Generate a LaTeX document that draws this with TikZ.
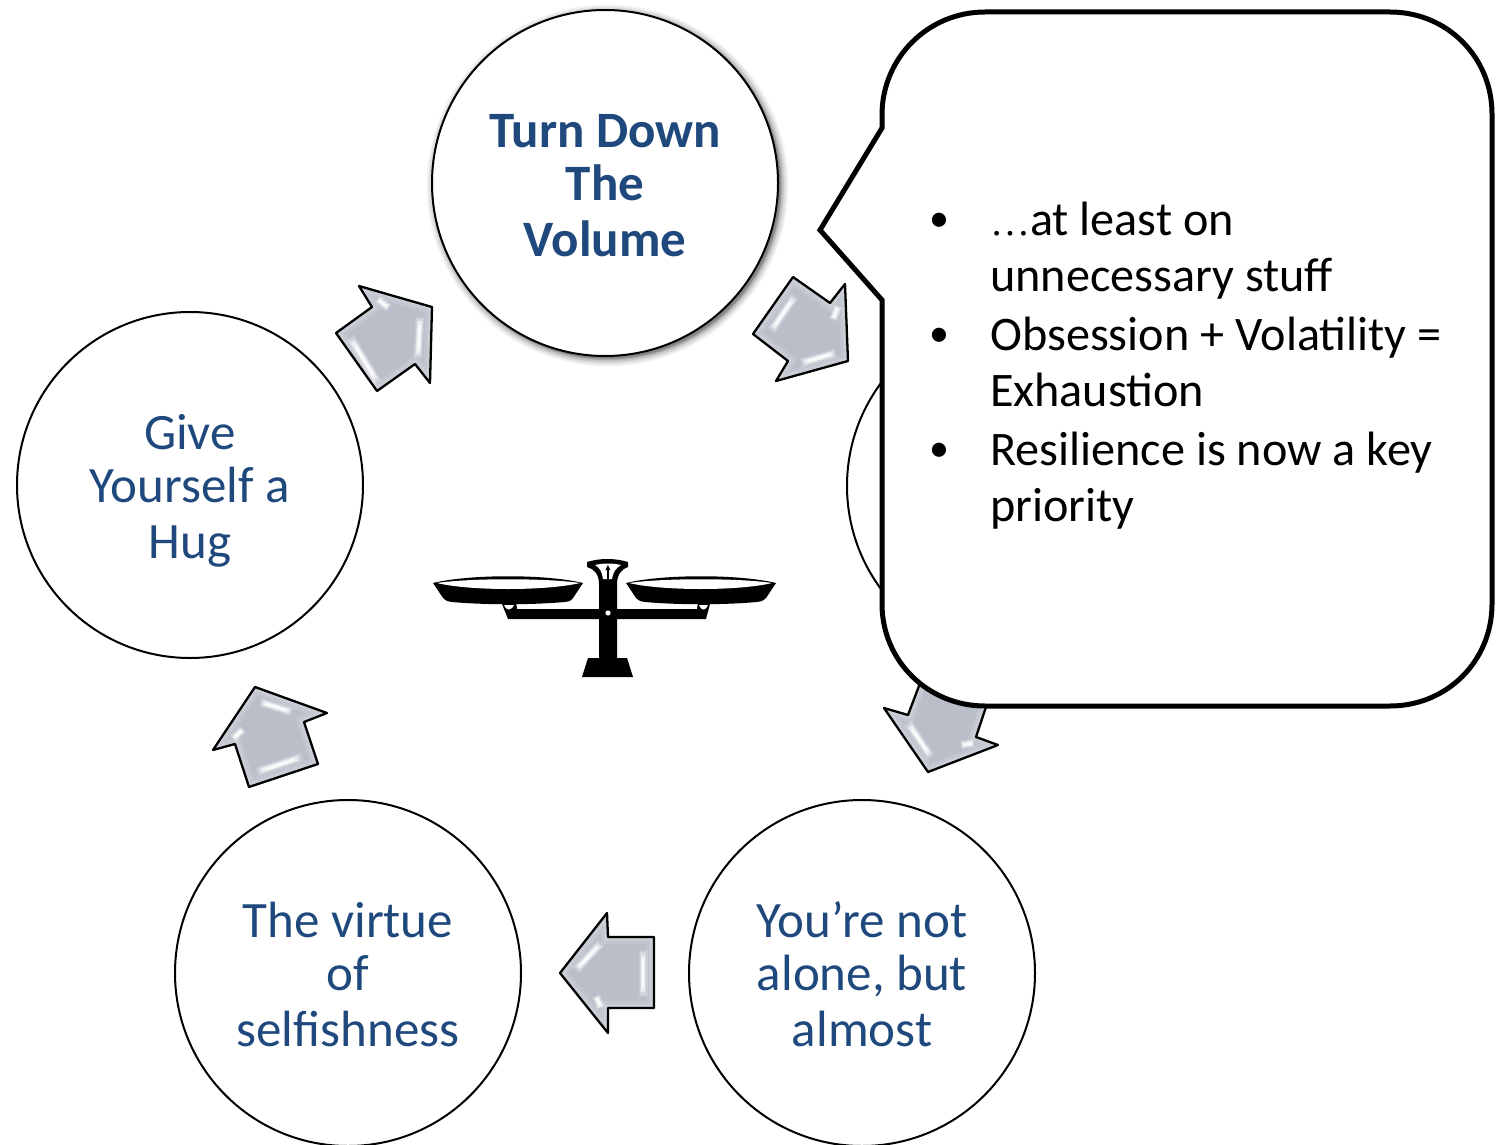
\documentclass[tikz,border=0pt]{standalone}
\usepackage{fontspec}
\usetikzlibrary{calc}
\setmainfont{Carlito}
\newfontfamily\dotsfont{Liberation Serif}
\definecolor{ttext}{HTML}{1F497D}
\definecolor{arrowfill}{HTML}{B9BEC9}
\newcommand{\blockarrow}[1]{%
  \begin{scope}\clip #1 -- cycle;
    \fill[arrowfill] #1 -- cycle;
    \draw[white,opacity=.13,line width=14pt] #1 -- cycle;
    \draw[white,opacity=.13,line width=8pt] #1 -- cycle;
  \end{scope}}
\newcommand{\blockoutline}[1]{\draw[black,line width=2.3pt,line join=round] #1 -- cycle;}
\newcommand{\glint}[2]{%
  \draw[white,opacity=.18,line width=9pt] (#1) -- (#2);
  \draw[white,opacity=.3,line width=6.5pt] ($(#1)!.05!(#2)$) -- ($(#1)!.95!(#2)$);
  \draw[white,opacity=.5,line width=4.5pt] ($(#1)!.1!(#2)$) -- ($(#1)!.9!(#2)$);
  \draw[white,opacity=.75,line width=2.5pt] ($(#1)!.18!(#2)$) -- ($(#1)!.82!(#2)$);}
\newcommand{\notebullet}{\makebox[0pt][r]{\raisebox{4pt}{\fontsize{40}{50}\selectfont •}\hspace{41pt}}}
\newcommand{\circleline}[2]{\raisebox{-#1pt}[0pt][0pt]{#2}}
\tikzset{
  stepcircle/.style={circle,draw=black,line width=2pt,fill=white,minimum size=346pt,inner sep=0pt,
    text=ttext,align=center,font=\fontsize{51}{54.5}\selectfont},
}
\begin{document}
\begin{tikzpicture}[x=1pt,y=-1pt]
\useasboundingbox (0,0) rectangle (1501,1145);
\fill[white] (0,0) rectangle (1501,1145);
% soft shadow of the top circle
\foreach \r/\o in {181/.04,179.5/.05,178/.06,176.5/.08,175/.1,174/.12,173/.15}
  \fill[black,opacity=\o] (607.5,185.5) circle (\r pt);
% circles
\node[stepcircle] (top) at (605,183) {\circleline{18.5}{\textbf{Turn Down}}\\\circleline{17}{\textbf{The}}\\\circleline{18.5}{\textbf{Volume}}};
\node[stepcircle] (right) at (1020,486) {};
\node[stepcircle] (br) at (862,973) {\circleline{18.5}{You’re not}\\\circleline{17}{alone, but}\\\circleline{18.5}{almost}};
\node[stepcircle] (bl) at (348,973) {\circleline{18.5}{The virtue}\\\circleline{17}{of}\\\circleline{18.5}{selfishness}};
\node[stepcircle] (left) at (190,485) {\circleline{18.5}{Give}\\\circleline{17}{Yourself a}\\\circleline{18.5}{Hug}};
% block arrows
\def\arrA{(793,277) -- (830,303) -- (845,284) -- (848,361) -- (776,381) -- (788,361) -- (753,334)}
\blockarrow{\arrA}
\glint{795,296}{771,331}\glint{801,363}{836,353}\glint{838,306}{833,320}
\blockoutline{\arrA}
\def\arrB{(925,670) -- (908,715) -- (884,708) -- (928,772) -- (998,745) -- (976,737) -- (995,680)}
\blockarrow{\arrB}
\glint{908,723}{931,757}\glint{961,745}{974,743}
\blockoutline{\arrB}
\def\arrC{(607,913) -- (608,937) -- (654,937) -- (654,1008) -- (608,1008) -- (608,1033) -- (560,973)}
\blockarrow{\arrC}
\glint{601,943}{576,970}\glint{643,950}{643,997}\glint{596,996}{601,1008}
\blockoutline{\arrC}
\def\arrD{(255,687) -- (327,713) -- (304,722) -- (318,764) -- (249,787) -- (235,744) -- (213,750)}
\blockarrow{\arrD}
\glint{260,702}{292,712}\glint{257,772}{302,757}\glint{243,729}{233,739}
\blockoutline{\arrD}
\def\arrE{(359,286) -- (432,307) -- (430,383) -- (415,364) -- (377,391) -- (336,333) -- (372,307)}
\blockarrow{\arrE}
\glint{350,337}{378,383}\glint{420,317}{418,358}\glint{377,299}{389,308}
\blockoutline{\arrE}
% balance
\fill[black] (433,583) .. controls (470,574) and (546,574) .. (583,583)
  -- (573,598) .. controls (571,601) and (568,602) .. (565,602) .. controls (530,605) and (486,605) .. (452,602)
  .. controls (449,602) and (446,601) .. (443,598) -- cycle;
\fill[white] (437,583) .. controls (470,578) and (546,578) .. (580,583)
  .. controls (546,591) and (470,591) .. (437,583) -- cycle;
\fill[black] (626,583) .. controls (663,574) and (739,574) .. (776,583)
  -- (766,598) .. controls (763,601) and (760,602) .. (757,602) .. controls (723,605) and (679,605) .. (645,602)
  .. controls (642,602) and (639,601) .. (636,598) -- cycle;
\fill[white] (629,583) .. controls (663,578) and (739,578) .. (772,583)
  .. controls (739,591) and (663,591) .. (629,583) -- cycle;
\fill[black] (502,604) -- (516,602) -- (517,609) -- (697,609) -- (698,602) -- (710,604) -- (706,619) -- (508,619) -- cycle;
\fill[white] (504,605) .. controls (506,611) and (511,611) .. (514,605) -- cycle;
\fill[white] (699,605) .. controls (701,611) and (706,611) .. (708,605) -- cycle;
\fill[black] (587,562) .. controls (600,558) and (615,558) .. (628,562) -- (628,567)
  .. controls (622,569) and (617,574) .. (617,584) -- (617,658) -- (627,658) -- (633,677) -- (582,677) -- (588,658)
  -- (599,658) -- (599,584) .. controls (599,574) and (594,569) .. (587,567) -- cycle;
\fill[white] (595,565) .. controls (603,563) and (613,563) .. (621,565) .. controls (616,568) and (613,572) .. (612,579) -- (603,579) .. controls (602,572) and (600,568) .. (595,565) -- cycle;
\fill[black] (607.2,579) rectangle (608.6,568);
\fill[black] (605.5,570) -- (607.9,565) -- (610.3,570) -- cycle;
\fill[white] (608,613) circle (2.6pt);
% callout
\draw[black,fill=white,line width=5pt,line join=miter] (882,128) -- (882,115)
  .. controls (882,58) and (928,12) .. (985,12) -- (1390,12)
  .. controls (1447,12) and (1492,57) .. (1492,114) -- (1492,604)
  .. controls (1492,661) and (1447,706) .. (1390,706) -- (985,706)
  .. controls (928,706) and (882,661) .. (882,604) -- (882,300) -- (820,230) -- cycle;
\node[anchor=north west,inner sep=0pt,text width=490pt,align=flush left,font=\fontsize{48.2}{55.5}\selectfont] (notes) at (990,202)
 {\notebullet{\dotsfont\fontsize{40}{56}\selectfont …}at least on\\
  unnecessary stuff\\[4pt]
  \notebullet Obsession + Volatility =\\
  Exhaustion\\[4pt]
  \notebullet Resilience is now a key\\
  priority};
\end{tikzpicture}
\end{document}
